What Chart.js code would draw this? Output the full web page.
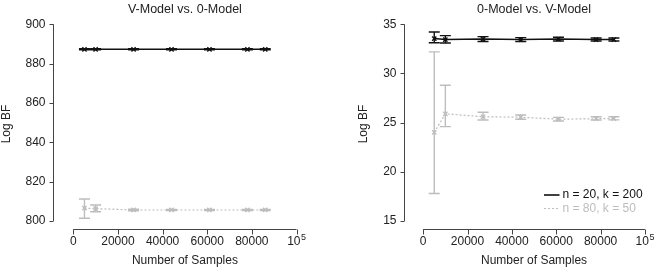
<!DOCTYPE html>
<html>
<head>
<meta charset="utf-8">
<script src="https://cdn.jsdelivr.net/npm/chart.js@4/dist/chart.umd.min.js"></script>
<style>
  html, body { margin: 0; padding: 0; background: #fff; }
  #wrap { position: relative; width: 657px; height: 279px; }
  .panel { position: absolute; top: 0; }
</style>
</head>
<body>
<div id="wrap">
  <div class="panel" style="left:0"><canvas id="leftChart" width="328" height="279"></canvas></div>
  <div class="panel" style="left:328px"><canvas id="rightChart" width="329" height="279"></canvas></div>
</div>
<script>
// number of samples (shared x positions)
const xSamples = [5000, 10000, 27000, 44000, 61000, 78000, 86000];
const xTicks = [0, 20000, 40000, 60000, 80000, 100000];

// left panel: V-Model vs. 0-Model
const leftYTicks = [800, 820, 840, 860, 880, 900];
const leftBlackMean = [887.3, 887.3, 887.3, 887.3, 887.3, 887.3, 887.3];
const leftBlackLow  = [887.0, 887.0, 887.0, 887.0, 887.0, 887.0, 887.0];
const leftBlackHigh = [887.6, 887.6, 887.6, 887.6, 887.6, 887.6, 887.6];
const leftGrayMean = [806.5, 806.3, 805.6, 805.6, 805.6, 805.6, 805.6];
const leftGrayLow  = [801.4, 804.7, 805.2, 805.3, 805.3, 805.3, 805.3];
const leftGrayHigh = [811.2, 808.1, 806.0, 805.9, 805.9, 805.9, 805.9];

// right panel: 0-Model vs. V-Model
const rightYTicks = [15, 20, 25, 30, 35];
const rightBlackMean = [33.55, 33.45, 33.5, 33.45, 33.5, 33.45, 33.45];
const rightBlackLow  = [33.13, 33.1, 33.25, 33.25, 33.3, 33.3, 33.3];
const rightBlackHigh = [34.22, 33.85, 33.75, 33.65, 33.68, 33.6, 33.6];
const rightGrayMean = [24.0, 25.9, 25.6, 25.55, 25.35, 25.4, 25.42];
const rightGrayLow  = [17.8, 24.6, 25.27, 25.34, 25.17, 25.27, 25.28];
const rightGrayHigh = [32.2, 28.8, 26.05, 25.78, 25.54, 25.6, 25.6];

const legendLabels = ['n = 20, k = 200', 'n = 80, k = 50'];

const BLACK = '#111111';
const GRAY = '#bdbdbd';
const FONT = '"Liberation Sans", Arial, Helvetica, sans-serif';

function pts(ys) {
    return xSamples.map((x, i) => ({ x: x, y: ys[i] }));
}

// error bars drawn through the chart's own scales
const errorBars = {
    id: 'errorBars',
    afterDatasetsDraw(chart) {
        const { ctx, scales: { x, y } } = chart;
        ctx.save();
        chart.data.datasets.forEach(ds => {
            if (!ds.errLow) return;
            ctx.strokeStyle = ds.borderColor;
            ctx.lineWidth = 1.4;
            ctx.setLineDash([]);
            xSamples.forEach((xv, i) => {
                const px = x.getPixelForValue(xv);
                const lo = y.getPixelForValue(ds.errLow[i]);
                const hi = y.getPixelForValue(ds.errHigh[i]);
                ctx.beginPath();
                ctx.moveTo(px, lo); ctx.lineTo(px, hi);
                ctx.moveTo(px - 5.5, lo); ctx.lineTo(px + 5.5, lo);
                ctx.moveTo(px - 5.5, hi); ctx.lineTo(px + 5.5, hi);
                ctx.stroke();
            });
        });
        ctx.restore();
    }
};

// R style axes, titles, labels (no box, detached axes)
const rAxes = {
    id: 'rAxes',
    afterDraw(chart, args, opts) {
        const { ctx, chartArea: a, scales: { x, y } } = chart;
        ctx.save();
        ctx.strokeStyle = '#444';
        ctx.fillStyle = '#222';
        ctx.lineWidth = 1;
        ctx.font = '12px ' + FONT;

        // y axis
        const ax = Math.round(a.left) + 0.5;
        const yt = opts.yTicks;
        ctx.beginPath();
        ctx.moveTo(ax, y.getPixelForValue(yt[0]));
        ctx.lineTo(ax, y.getPixelForValue(yt[yt.length - 1]));
        yt.forEach(v => {
            const py = Math.round(y.getPixelForValue(v)) + 0.5;
            ctx.moveTo(ax - 4, py); ctx.lineTo(ax, py);
        });
        ctx.stroke();
        ctx.textAlign = 'right';
        ctx.textBaseline = 'middle';
        yt.forEach(v => ctx.fillText(String(v), ax - 8, y.getPixelForValue(v)));

        // x axis
        const ay = Math.round(a.bottom) + 0.5;
        ctx.beginPath();
        ctx.moveTo(x.getPixelForValue(xTicks[0]), ay);
        ctx.lineTo(x.getPixelForValue(xTicks[xTicks.length - 1]), ay);
        xTicks.forEach(v => {
            const px = Math.round(x.getPixelForValue(v)) + 0.5;
            ctx.moveTo(px, ay); ctx.lineTo(px, ay + 5);
        });
        ctx.stroke();
        ctx.textAlign = 'center';
        xTicks.forEach(v => {
            const px = x.getPixelForValue(v);
            if (v === 100000) {
                // 10^5 with superscript
                ctx.textAlign = 'right';
                ctx.fillText('10', px + 4, ay + 12.5);
                ctx.textAlign = 'left';
                ctx.font = '9px ' + FONT;
                ctx.fillText('5', px + 4.5, ay + 8);
                ctx.font = '12px ' + FONT;
                ctx.textAlign = 'center';
            } else {
                ctx.fillText(String(v), px, ay + 12.5);
            }
        });

        const midX = (x.getPixelForValue(0) + x.getPixelForValue(100000)) / 2;
        ctx.fillText('Number of Samples', midX, 261);

        // title
        ctx.font = '12.5px ' + FONT;
        ctx.fillText(opts.title, midX, 9.5);

        // y label
        ctx.font = '12px ' + FONT;
        ctx.save();
        ctx.translate(opts.yLabelX, 124);
        ctx.rotate(-Math.PI / 2);
        ctx.fillText('Log BF', 0, 0);
        ctx.restore();

        // legend (right panel only)
        if (opts.legend) {
            const lx = opts.legend.x, ly = opts.legend.y;
            const styles = [[BLACK, [], 1.6], [GRAY, [2, 2], 1.2]];
            legendLabels.forEach((lab, i) => {
                const yy = ly + i * 13.5;
                ctx.strokeStyle = styles[i][0];
                ctx.setLineDash(styles[i][1]);
                ctx.lineWidth = styles[i][2];
                ctx.beginPath();
                ctx.moveTo(lx, yy); ctx.lineTo(lx + 15.5, yy);
                ctx.stroke();
                ctx.fillStyle = styles[i][0];
                ctx.textAlign = 'left';
                ctx.fillText(lab, lx + 18.5, yy);
            });
        }
        ctx.restore();
    }
};

function buildPanel(canvasId, setup) {
    const ctx = document.getElementById(canvasId).getContext('2d');
    return new Chart(ctx, {
        type: 'line',
        data: {
            datasets: [
                {
                    label: legendLabels[0],
                    data: pts(setup.blackMean),
                    errLow: setup.blackLow,
                    errHigh: setup.blackHigh,
                    borderColor: BLACK,
                    borderWidth: 1.5,
                    pointStyle: 'crossRot',
                    pointRadius: 3,
                    pointBorderWidth: 1.4,
                    pointBorderColor: BLACK,
                    tension: 0
                },
                {
                    label: legendLabels[1],
                    data: pts(setup.grayMean),
                    errLow: setup.grayLow,
                    errHigh: setup.grayHigh,
                    borderColor: GRAY,
                    borderWidth: 1.2,
                    borderDash: [2, 2],
                    pointStyle: 'crossRot',
                    pointRadius: 3,
                    pointBorderWidth: 1.4,
                    pointBorderColor: GRAY,
                    tension: 0
                }
            ]
        },
        options: {
            responsive: false,
            animation: false,
            events: [],
            layout: { padding: setup.padding },
            scales: {
                x: { type: 'linear', display: false, min: setup.xMin, max: setup.xMax },
                y: { type: 'linear', display: false, min: setup.yMin, max: setup.yMax }
            },
            plugins: {
                legend: { display: false },
                tooltip: { enabled: false },
                rAxes: {
                    title: setup.title,
                    yTicks: setup.yTicks,
                    yLabelX: setup.yLabelX,
                    legend: setup.legend
                }
            }
        },
        plugins: [errorBars, rAxes]
    });
}

buildPanel('leftChart', {
    title: 'V-Model vs. 0-Model',
    yTicks: leftYTicks,
    blackMean: leftBlackMean, blackLow: leftBlackLow, blackHigh: leftBlackHigh,
    grayMean: leftGrayMean, grayLow: leftGrayLow, grayHigh: leftGrayHigh,
    xMin: -9229, xMax: 103000, yMin: 795.78, yMax: 904,
    padding: { left: 52.7, right: 24.8, top: 16.43, bottom: 49.7 },
    yLabelX: 7
});

buildPanel('rightChart', {
    title: '0-Model vs. V-Model',
    yTicks: rightYTicks,
    blackMean: rightBlackMean, blackLow: rightBlackLow, blackHigh: rightBlackHigh,
    grayMean: rightGrayMean, grayLow: rightGrayLow, grayHigh: rightGrayHigh,
    xMin: -8863, xMax: 103000, yMin: 14.156, yMax: 35.8,
    padding: { left: 75.5, right: 3.6, top: 16.43, bottom: 49.7 },
    yLabelX: 35.5,
    legend: { x: 216, y: 195 }
});
</script>
</body>
</html>
